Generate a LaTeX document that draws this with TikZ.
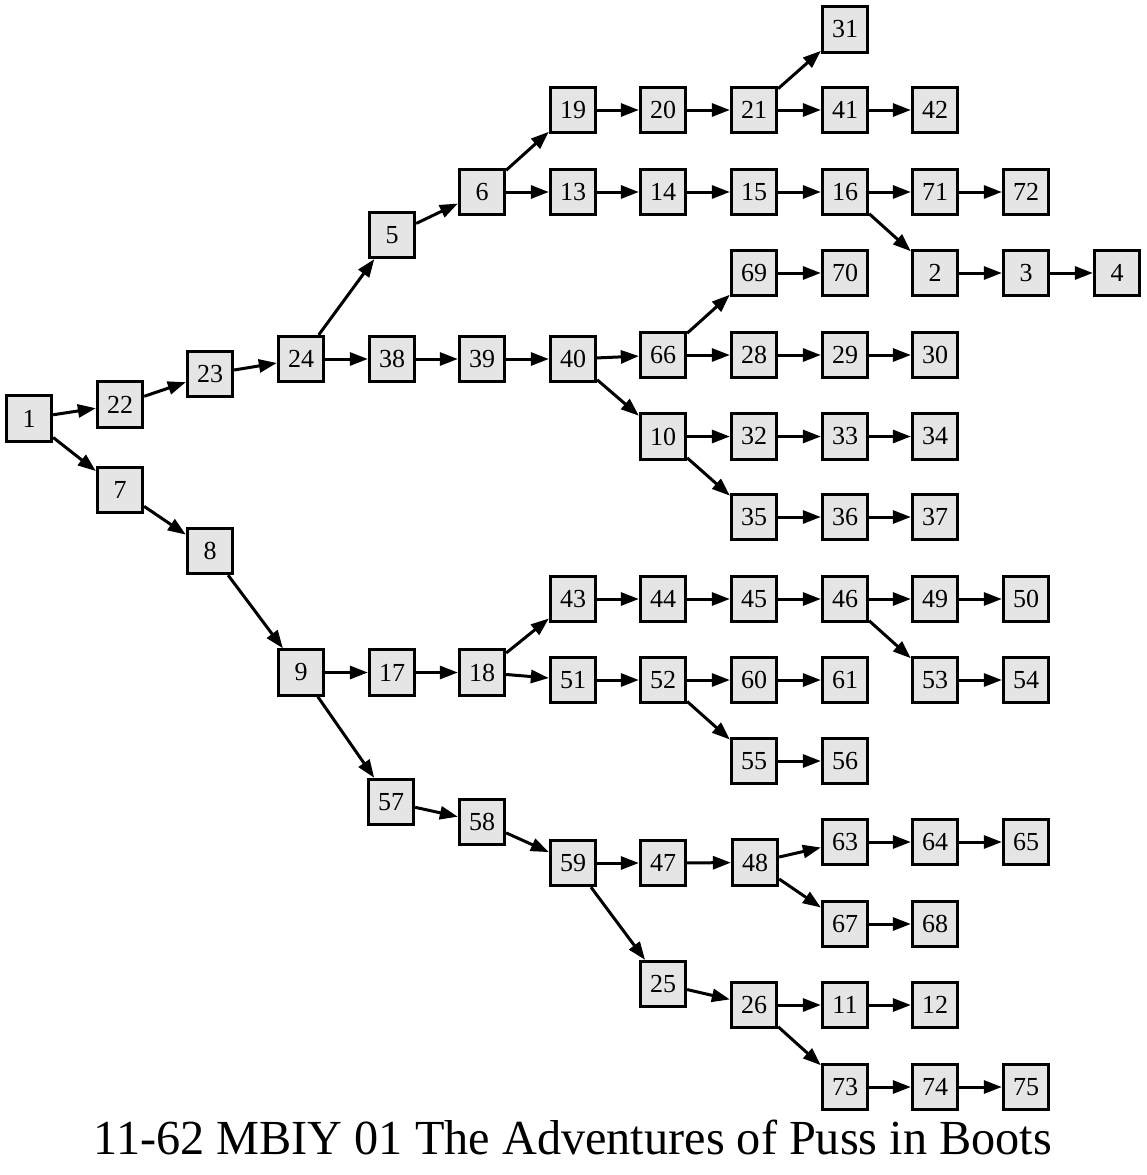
\documentclass[tikz,border=0pt]{standalone}
\usepackage{fontspec}
\setmainfont{Liberation Serif}
\usetikzlibrary{arrows.meta}
\definecolor{boxfill}{HTML}{E5E5E5}
\tikzset{
  nd/.style={draw=black, fill=boxfill, line width=2.8pt, minimum size=45.5pt, inner sep=0pt,
    font=\fontsize{26}{26}\selectfont},
  edge/.style={line width=3pt, -{Triangle[length=18pt,width=13pt]}},
  ttl/.style={font=\fontsize{49}{49}\selectfont, inner sep=0pt, anchor=base}
}
\begin{document}
\begin{tikzpicture}[x=1pt,y=-1pt]
\useasboundingbox (0,0) rectangle (1147,1175);
\node[nd] (n1) at (29,418.5) {1};
\node[nd] (n22) at (120,404.5) {22};
\node[nd] (n23) at (210,374) {23};
\node[nd] (n24) at (301,359) {24};
\node[nd] (n5) at (392,235) {5};
\node[nd] (n38) at (392,359) {38};
\node[nd] (n6) at (482,192) {6};
\node[nd] (n39) at (482,359) {39};
\node[nd] (n19) at (573,110) {19};
\node[nd] (n13) at (573,192) {13};
\node[nd] (n40) at (573,359) {40};
\node[nd] (n20) at (663,110) {20};
\node[nd] (n14) at (663,192) {14};
\node[nd] (n66) at (663,355) {66};
\node[nd] (n10) at (663,436.5) {10};
\node[nd] (n21) at (754,110) {21};
\node[nd] (n15) at (754,192) {15};
\node[nd] (n69) at (754,273) {69};
\node[nd] (n28) at (754,355) {28};
\node[nd] (n32) at (754,436.5) {32};
\node[nd] (n35) at (754,517) {35};
\node[nd] (n31) at (845,29.5) {31};
\node[nd] (n41) at (845,110) {41};
\node[nd] (n16) at (845,192) {16};
\node[nd] (n70) at (845,273) {70};
\node[nd] (n29) at (845,355) {29};
\node[nd] (n33) at (845,436.5) {33};
\node[nd] (n36) at (845,517) {36};
\node[nd] (n42) at (935,110) {42};
\node[nd] (n71) at (935,192) {71};
\node[nd] (n2) at (935,273) {2};
\node[nd] (n30) at (935,355) {30};
\node[nd] (n34) at (935,436.5) {34};
\node[nd] (n37) at (935,517) {37};
\node[nd] (n72) at (1026,192) {72};
\node[nd] (n3) at (1026,273) {3};
\node[nd] (n4) at (1117,273) {4};
\node[nd] (n7) at (120,490) {7};
\node[nd] (n8) at (210,551) {8};
\node[nd] (n9) at (301,672.5) {9};
\node[nd] (n17) at (392,672.5) {17};
\node[nd] (n18) at (482,672.5) {18};
\node[nd] (n43) at (573,599) {43};
\node[nd] (n44) at (663,599) {44};
\node[nd] (n45) at (754,599) {45};
\node[nd] (n46) at (845,599) {46};
\node[nd] (n49) at (935,599) {49};
\node[nd] (n50) at (1026,599) {50};
\node[nd] (n51) at (573,680) {51};
\node[nd] (n52) at (663,680) {52};
\node[nd] (n60) at (754,680) {60};
\node[nd] (n61) at (845,680) {61};
\node[nd] (n53) at (935,680) {53};
\node[nd] (n54) at (1026,680) {54};
\node[nd] (n55) at (754,761) {55};
\node[nd] (n56) at (845,761) {56};
\node[nd] (n57) at (391,802) {57};
\node[nd] (n58) at (482,822) {58};
\node[nd] (n59) at (573,863) {59};
\node[nd] (n47) at (663,863) {47};
\node[nd] (n48) at (755,862.5) {48};
\node[nd] (n63) at (845,842) {63};
\node[nd] (n64) at (935,842) {64};
\node[nd] (n65) at (1026,842) {65};
\node[nd] (n67) at (845,924) {67};
\node[nd] (n68) at (935,924) {68};
\node[nd] (n25) at (663,984) {25};
\node[nd] (n26) at (754,1005) {26};
\node[nd] (n11) at (845,1005) {11};
\node[nd] (n12) at (935,1005) {12};
\node[nd] (n73) at (845,1087) {73};
\node[nd] (n74) at (935,1087) {74};
\node[nd] (n75) at (1026,1087) {75};
\foreach \a/\b in {1/22,1/7,22/23,23/24,24/5,24/38,5/6,6/19,6/13,19/20,20/21,21/31,21/41,41/42,
  13/14,14/15,15/16,16/71,71/72,16/2,2/3,3/4,38/39,39/40,40/66,40/10,66/69,66/28,69/70,28/29,29/30,
  10/32,32/33,33/34,10/35,35/36,36/37,7/8,8/9,9/17,9/57,17/18,18/43,18/51,43/44,44/45,45/46,
  46/49,49/50,46/53,53/54,51/52,52/60,60/61,52/55,55/56,57/58,58/59,59/47,59/25,47/48,48/63,
  63/64,64/65,48/67,67/68,25/26,26/11,11/12,26/73,73/74,74/75}
  \draw[edge] (n\a) -- (n\b);
\node[ttl, xscale=0.985] (title) at (573,1154) {11-62 MBIY 01 The Adventures of Puss in Boots};
\end{tikzpicture}
\end{document}
